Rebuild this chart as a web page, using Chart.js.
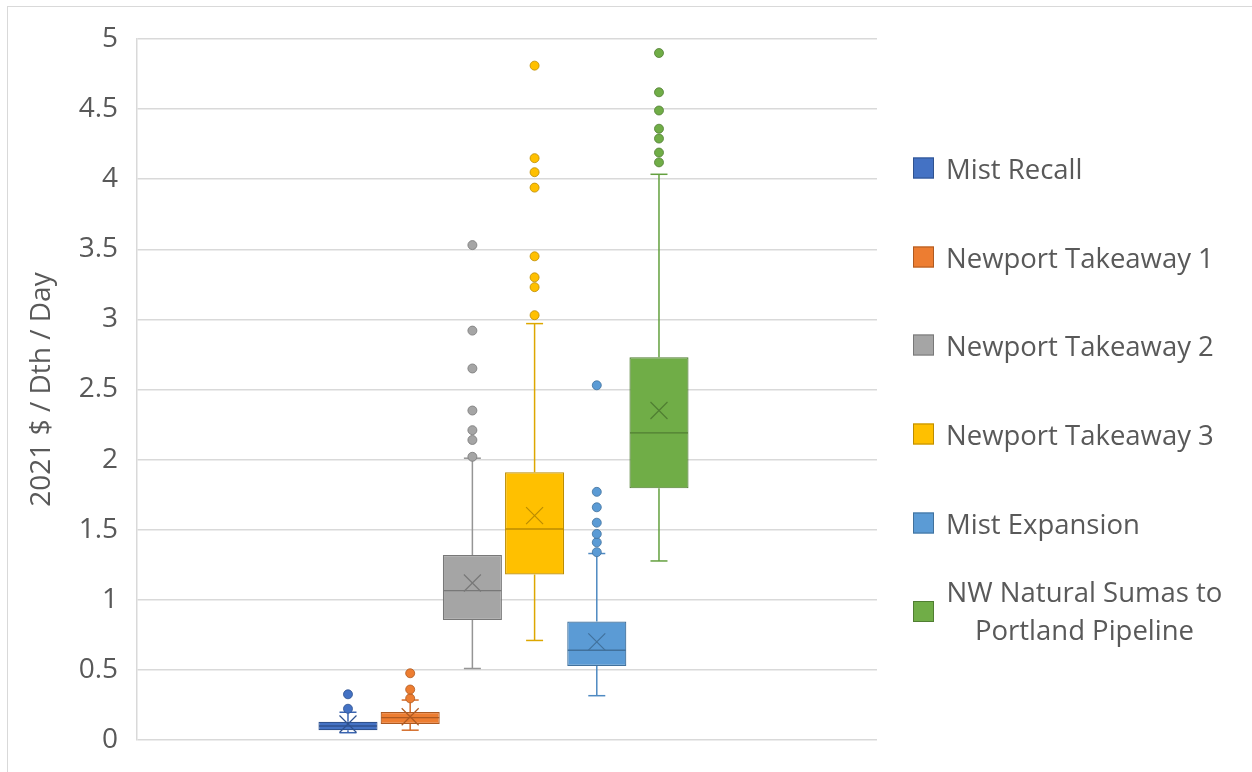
<!DOCTYPE html>
<html><head><meta charset="utf-8">
<script src="https://cdn.jsdelivr.net/npm/chart.js@4"></script>
<style>
html,body{margin:0;padding:0;background:#fff;}
#wrap{position:relative;width:1252px;height:772px;overflow:hidden;font-family:'Open Sans',sans-serif;}
#frame{position:absolute;left:7px;top:6px;width:1300px;height:800px;border-left:1.5px solid #d9d9d9;border-top:1.5px solid #d9d9d9;}
canvas{position:absolute;left:0;top:0;}
.lg{position:absolute;left:913px;display:flex;align-items:center;color:#595959;font-size:27.5px;transform:translateY(-50%);}
.sw{width:21px;height:21px;box-sizing:border-box;margin-right:12px;flex:none;}
.tx{white-space:nowrap;}
.tx.wrap{white-space:normal;width:277px;text-align:center;line-height:38px;}
</style></head>
<body><div id="wrap"><div id="frame"></div><canvas id="c" width="1252" height="772"></canvas><div id="legend"></div></div>
<script>
const categories = ['Mist Recall','Newport Takeaway 1','Newport Takeaway 2','Newport Takeaway 3','Mist Expansion','NW Natural Sumas to Portland Pipeline'];
const positions = [1,2,3,4,5,6];
const whiskerLow  = [0.052, 0.07, 0.51, 0.71, 0.316, 1.277];
const q1          = [0.07, 0.114, 0.856, 1.18, 0.528, 1.795];
const median      = [0.10, 0.16, 1.065, 1.505, 0.64, 2.19];
const q3          = [0.13, 0.20, 1.32, 1.91, 0.845, 2.73];
const whiskerHigh = [0.198, 0.285, 2.01, 2.97, 1.33, 4.035];
const mean        = [0.114, 0.166, 1.12, 1.60, 0.70, 2.35];
const outliers = [
  [0.223, 0.326],
  [0.297, 0.36, 0.476],
  [2.02, 2.14, 2.21, 2.35, 2.65, 2.92, 3.53],
  [3.03, 3.23, 3.30, 3.45, 3.94, 4.05, 4.15, 4.81],
  [1.34, 1.41, 1.47, 1.55, 1.66, 1.77, 2.53],
  [4.12, 4.19, 4.29, 4.36, 4.49, 4.62, 4.90]
];
const yTicks = ['0','0.5','1','1.5','2','2.5','3','3.5','4','4.5','5'];
const yTitle = '2021 $ / Dth / Day';

const colors = ['#4472C4','#ED7D31','#A5A5A5','#FFC000','#5B9BD5','#70AD47'];
const darks  = ['#2F528F','#AE5A21','#787878','#BC8C00','#41719C','#507E32'];
const mids   = ['#3A64B0','#D46C28','#959595','#DDA700','#4F8AC2','#64A03F'];

const datasets = [];
categories.forEach((name, i) => {
  const p = positions[i];
  datasets.push({type:'bar', label:name, order:5, data:[{x:p, y:[q1[i], q3[i]]}],
    backgroundColor:colors[i], borderColor:darks[i], borderWidth:1.2, borderSkipped:false,
    categoryPercentage:1, barPercentage:0.95, grouped:false});
  datasets.push({type:'line', label:name+' whiskers', order:4,
    data:[{x:p,y:whiskerHigh[i]},{x:p,y:q3[i]},{x:p,y:null},{x:p,y:q1[i]},{x:p,y:whiskerLow[i]}],
    borderColor:mids[i], borderWidth:1.5, spanGaps:false, fill:false,
    pointStyle:'line', pointRadius:[8.5,0,0,0,8.5], pointBorderColor:mids[i], pointBorderWidth:1.5, pointBackgroundColor:mids[i]});
  datasets.push({type:'scatter', label:name+' median', order:3, data:[{x:p,y:median[i]}],
    pointStyle:'line', pointRadius:29, borderColor:darks[i], borderWidth:1.3, backgroundColor:darks[i]});
  datasets.push({type:'scatter', label:name+' mean', order:2, data:[{x:p,y:mean[i]}],
    pointStyle:'crossRot', pointRadius:12, borderColor:darks[i], borderWidth:1.2, backgroundColor:darks[i]});
  datasets.push({type:'scatter', label:name+' outliers', order:1, data:outliers[i].map(v=>({x:p,y:v})),
    pointStyle:'circle', pointRadius:4.5, backgroundColor:colors[i], borderColor:darks[i], borderWidth:0.8});
});

new Chart(document.getElementById('c'), {
  data:{datasets},
  options:{
    responsive:false, animation:false, events:[],
    layout:{padding:{left:0, top:39, right:375, bottom:32}},
    plugins:{legend:{display:false}, tooltip:{enabled:false}},
    scales:{
      x:{type:'linear', display:false, offset:false, min:-2.392, max:9.505,
         afterBuildTicks:(s)=>{ s.ticks = positions.map(v=>({value:v})); }},
      y:{type:'linear', min:0, max:5,
         ticks:{stepSize:0.5, padding:19, color:'#595959', font:{family:'Open Sans', size:28},
                callback:(v,i)=>yTicks[i]},
         grid:{color:'#d9d9d9', lineWidth:1.5, drawTicks:false},
         border:{display:true, color:'#d9d9d9', width:1.5},
         title:{display:true, text:yTitle, color:'#595959', font:{family:'Open Sans', size:28}, padding:{top:25,bottom:0}},
         afterFit:(s)=>{ s.width = 137; s.paddingTop = 0; s.paddingBottom = 0; }}
    }
  }
});

const legendY = [168, 257, 345, 434, 523, 611];
const lg = document.getElementById('legend');
categories.forEach((name,i)=>{
  const d = document.createElement('div');
  d.className='lg'; d.style.top = legendY[i]+'px';
  const sw = document.createElement('div'); sw.className='sw';
  sw.style.background = colors[i]; sw.style.border = '1px solid '+darks[i];
  const t = document.createElement('div'); t.className = 'tx' + (i===5?' wrap':''); t.textContent = name;
  d.appendChild(sw); d.appendChild(t); lg.appendChild(d);
});
</script>
</body></html>
